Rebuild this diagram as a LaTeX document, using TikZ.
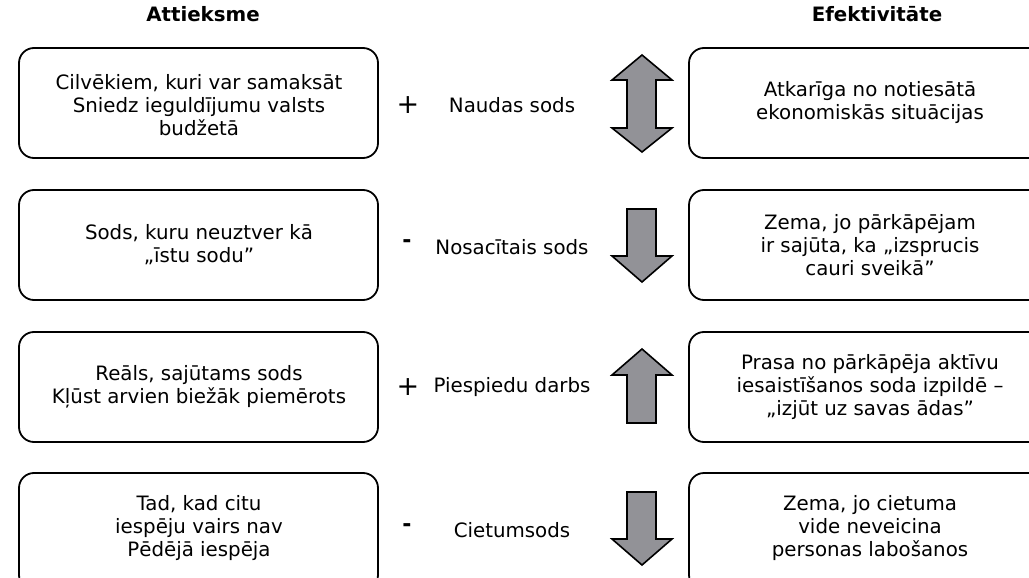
\documentclass[tikz,border=0pt]{standalone}
\usepackage{fontspec}
\setmainfont{DejaVu Sans}
\begin{document}
\begin{tikzpicture}[x=1pt,y=-1pt,
  box/.style={draw=black,line width=1.8pt,rounded corners=15pt},
  txt/.style={align=center,font=\fontsize{19.8}{23}\selectfont,inner sep=0pt},
  hdr/.style={font=\fontsize{19.8}{23}\selectfont\bfseries,inner sep=0pt},
  plus/.style={font=\fontsize{27}{27}\selectfont,inner sep=0pt},
  minus/.style={font=\fontsize{22}{23}\selectfont\bfseries,inner sep=0pt},
  arr/.style={draw=black,line width=1.6pt,fill=arrowgray,line join=miter}]
\definecolor{arrowgray}{HTML}{929297}
\useasboundingbox (0,0) rectangle (1029,578);
\clip (0,0) rectangle (1029,578);
% headers
\node[hdr] (hL) at (203,14) {Attieksme};
\node[hdr] (hR) at (877,14) {Efektivitāte};
% left boxes
\draw[box] (19,48) rectangle (378,158);
\draw[box] (19,190) rectangle (378,300);
\draw[box] (19,332) rectangle (378,442);
\draw[box] (19,473) rectangle (378,590);
% right boxes
\draw[box] (689,48) rectangle (1050,158);
\draw[box] (689,190) rectangle (1050,300);
\draw[box] (689,332) rectangle (1050,442);
\draw[box] (689,473) rectangle (1050,590);
% left texts
\node[txt] (l1) at (199,105) {Cilvēkiem, kuri var samaksāt\\Sniedz ieguldījumu valsts\\budžetā};
\node[txt] (l2) at (199,245) {Sods, kuru neuztver kā\\„īstu sodu”};
\node[txt] (l3) at (199,387) {Reāls, sajūtams sods\\Kļūst arvien biežāk piemērots};
\node[txt] (l4) at (199,528) {Tad, kad citu\\iespēju vairs nav\\Pēdējā iespēja};
% right texts
\node[txt] (r1) at (870,103) {Atkarīga no notiesātā\\ekonomiskās situācijas};
\node[txt] (r2) at (870,245) {Zema, jo pārkāpējam\\ir sajūta, ka „izsprucis\\cauri sveikā”};
\node[txt] (r3) at (870,387) {Prasa no pārkāpēja aktīvu\\iesaistīšanos soda izpildē –\\„izjūt uz savas ādas”};
\node[txt] (r4) at (870,528) {Zema, jo cietuma\\vide neveicina\\personas labošanos};
% middle labels
\node[plus] (s1) at (408,105) {+};
\node[txt] (m1) at (512,105) {Naudas sods};
\node[minus] (s2) at (407,244) {-};
\node[txt] (m2) at (512,247) {Nosacītais sods};
\node[plus] (s3) at (408,387) {+};
\node[txt] (m3) at (512,387) {Piespiedu darbs};
\node[minus] (s4) at (407,528) {-};
\node[txt] (m4) at (512,530) {Cietumsods};
% arrows
\draw[arr] (642,55) -- (672,80) -- (656,80) -- (656,128) -- (672,128) -- (642,152)
  -- (612,128) -- (627,128) -- (627,80) -- (612,80) -- cycle;
\draw[arr] (627,209) -- (656,209) -- (656,256) -- (672,256) -- (642,282) -- (612,256) -- (627,256) -- cycle;
\draw[arr] (642,349) -- (672,375) -- (656,375) -- (656,423) -- (627,423) -- (627,375) -- (612,375) -- cycle;
\draw[arr] (627,492) -- (656,492) -- (656,539) -- (672,539) -- (642,565) -- (612,539) -- (627,539) -- cycle;
\end{tikzpicture}
\end{document}
